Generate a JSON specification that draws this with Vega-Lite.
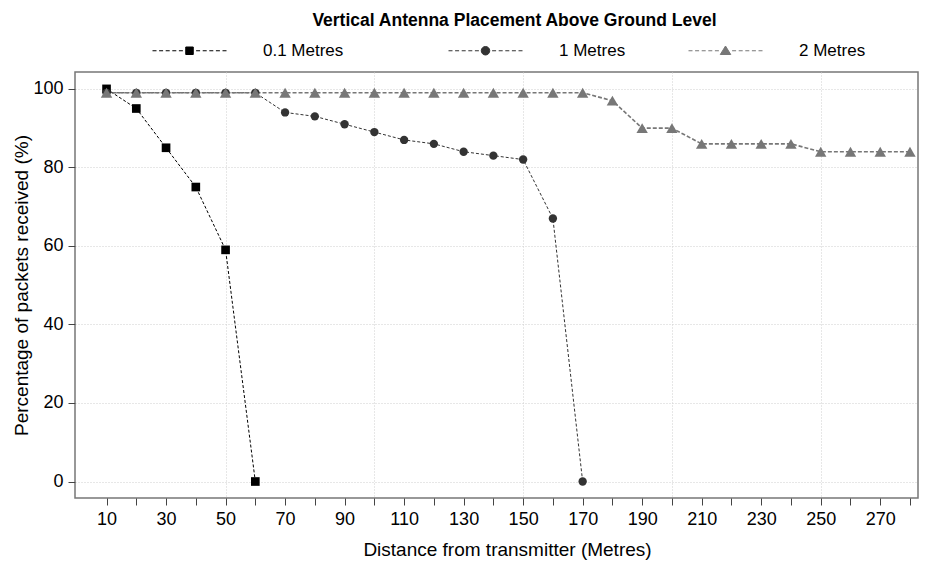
{
  "$schema": "https://vega.github.io/schema/vega-lite/v6.json",
  "width": 843,
  "height": 426,
  "autosize": {"type": "none"},
  "padding": {"left": 75, "top": 72, "right": 11, "bottom": 67},
  "background": "white",
  "config": {
    "font": "Liberation Sans",
    "view": {"stroke": "#777", "strokeWidth": 1.5},
    "axis": {
      "labelFontSize": 18,
      "titleFontSize": 19,
      "titleFontWeight": "normal",
      "labelColor": "#000",
      "titleColor": "#000",
      "tickColor": "#444",
      "tickSize": 7,
      "domain": false,
      "gridColor": "#cfcfcf",
      "gridDash": [1, 2],
      "gridWidth": 1
    }
  },
  "title": {
    "text": "Vertical Antenna Placement Above Ground Level",
    "fontSize": 17.5,
    "fontWeight": "bold",
    "color": "#000",
    "anchor": "middle",
    "frame": "group",
    "dx": 18,
    "offset": 13
  },
  "data": {
    "values": [
      {"d": 10, "p": 100, "s": "0.1 Metres"},
      {"d": 20, "p": 95, "s": "0.1 Metres"},
      {"d": 30, "p": 85, "s": "0.1 Metres"},
      {"d": 40, "p": 75, "s": "0.1 Metres"},
      {"d": 50, "p": 59, "s": "0.1 Metres"},
      {"d": 60, "p": 0, "s": "0.1 Metres"},
      {"d": 10, "p": 99, "s": "1 Metres"},
      {"d": 20, "p": 99, "s": "1 Metres"},
      {"d": 30, "p": 99, "s": "1 Metres"},
      {"d": 40, "p": 99, "s": "1 Metres"},
      {"d": 50, "p": 99, "s": "1 Metres"},
      {"d": 60, "p": 99, "s": "1 Metres"},
      {"d": 70, "p": 94, "s": "1 Metres"},
      {"d": 80, "p": 93, "s": "1 Metres"},
      {"d": 90, "p": 91, "s": "1 Metres"},
      {"d": 100, "p": 89, "s": "1 Metres"},
      {"d": 110, "p": 87, "s": "1 Metres"},
      {"d": 120, "p": 86, "s": "1 Metres"},
      {"d": 130, "p": 84, "s": "1 Metres"},
      {"d": 140, "p": 83, "s": "1 Metres"},
      {"d": 150, "p": 82, "s": "1 Metres"},
      {"d": 160, "p": 67, "s": "1 Metres"},
      {"d": 170, "p": 0, "s": "1 Metres"},
      {"d": 10, "p": 99, "s": "2 Metres"},
      {"d": 20, "p": 99, "s": "2 Metres"},
      {"d": 30, "p": 99, "s": "2 Metres"},
      {"d": 40, "p": 99, "s": "2 Metres"},
      {"d": 50, "p": 99, "s": "2 Metres"},
      {"d": 60, "p": 99, "s": "2 Metres"},
      {"d": 70, "p": 99, "s": "2 Metres"},
      {"d": 80, "p": 99, "s": "2 Metres"},
      {"d": 90, "p": 99, "s": "2 Metres"},
      {"d": 100, "p": 99, "s": "2 Metres"},
      {"d": 110, "p": 99, "s": "2 Metres"},
      {"d": 120, "p": 99, "s": "2 Metres"},
      {"d": 130, "p": 99, "s": "2 Metres"},
      {"d": 140, "p": 99, "s": "2 Metres"},
      {"d": 150, "p": 99, "s": "2 Metres"},
      {"d": 160, "p": 99, "s": "2 Metres"},
      {"d": 170, "p": 99, "s": "2 Metres"},
      {"d": 180, "p": 97, "s": "2 Metres"},
      {"d": 190, "p": 90, "s": "2 Metres"},
      {"d": 200, "p": 90, "s": "2 Metres"},
      {"d": 210, "p": 86, "s": "2 Metres"},
      {"d": 220, "p": 86, "s": "2 Metres"},
      {"d": 230, "p": 86, "s": "2 Metres"},
      {"d": 240, "p": 86, "s": "2 Metres"},
      {"d": 250, "p": 84, "s": "2 Metres"},
      {"d": 260, "p": 84, "s": "2 Metres"},
      {"d": 270, "p": 84, "s": "2 Metres"},
      {"d": 280, "p": 84, "s": "2 Metres"}
    ]
  },
  "encoding": {
    "x": {
      "field": "d",
      "type": "quantitative",
      "scale": {"domain": [-0.6, 282.7], "nice": false, "zero": false},
      "axis": {
        "title": "Distance from transmitter (Metres)",
        "values": [10, 20, 30, 40, 50, 60, 70, 80, 90, 100, 110, 120, 130, 140, 150, 160, 170, 180, 190, 200, 210, 220, 230, 240, 250, 260, 270, 280],
        "labelExpr": "datum.value % 20 == 10 ? datum.label : ''",
        "labelPadding": 5,
        "titlePadding": 12,
        "titleX": 432,
        "grid": true,
        "gridOpacity": {"condition": {"test": "datum.value % 50 == 0", "value": 1}, "value": 0}
      }
    },
    "y": {
      "field": "p",
      "type": "quantitative",
      "scale": {"domain": [-4.2, 104.3], "nice": false, "zero": false},
      "axis": {
        "title": "Percentage of packets received (%)",
        "values": [0, 20, 40, 60, 80, 100],
        "tickSize": 7,
        "labelPadding": 5,
        "titlePadding": 1,
        "grid": true
      }
    },
    "color": {
      "field": "s",
      "type": "nominal",
      "scale": {"domain": ["0.1 Metres", "1 Metres", "2 Metres"], "range": ["#000000", "#333333", "#777777"]},
      "legend": {
        "title": null,
        "orient": "none",
        "direction": "horizontal",
        "legendX": 106,
        "legendY": -30,
        "padding": 0,
        "symbolSize": 100,
        "labelOffset": 65,
        "columnPadding": 60,
        "labelFontSize": 17,
        "labelColor": "#000",
        "labelExpr": "datum.value === '0.1 Metres' ? datum.label + '\u00a0\u00a0\u00a0\u00a0\u00a0\u00a0\u00a0\u00a0\u00a0\u200b' : datum.label",
        "symbolStrokeWidth": 1,
        "encode": {
          "symbols": {
            "update": {
              "shape": {"signal": "datum.value === '0.1 Metres' ? 'M-7.4,0L-6.6,0M-6.08,0L-5.28,0M-4.76,0L-3.96,0M-3.44,0L-2.64,0M-2.12,0L-1.32,0M1.32,0L2.12,0M2.64,0L3.44,0M3.96,0L4.76,0M5.28,0L6.08,0M6.6,0L7.4,0M-0.75,-0.75L0.75,-0.75L0.75,0.75L-0.75,0.75Z' : datum.value === '1 Metres' ? 'M-7.4,0L-6.6,0M-6.08,0L-5.28,0M-4.76,0L-3.96,0M-3.44,0L-2.64,0M-2.12,0L-1.32,0M1.32,0L2.12,0M2.64,0L3.44,0M3.96,0L4.76,0M5.28,0L6.08,0M6.6,0L7.4,0M-0.85,0A0.85,0.85,0,1,1,0.85,0A0.85,0.85,0,1,1,-0.85,0Z' : 'M-7.4,0L-6.6,0M-6.08,0L-5.28,0M-4.76,0L-3.96,0M-3.44,0L-2.64,0M-2.12,0L-1.32,0M1.32,0L2.12,0M2.64,0L3.44,0M3.96,0L4.76,0M5.28,0L6.08,0M6.6,0L7.4,0M0,-0.95L1.05,0.75L-1.05,0.75Z'"},
              "fill": {"signal": "datum.value === '0.1 Metres' ? '#000000' : datum.value === '1 Metres' ? '#333333' : '#777777'"},
              "stroke": {"signal": "datum.value === '0.1 Metres' ? '#000000' : datum.value === '1 Metres' ? '#444444' : '#a0a0a0'"},
              "strokeWidth": {"value": 1},
              "opacity": {"value": 1}
            }
          }
        }
      }
    }
  },
  "layer": [
    {
      "transform": [{"filter": "datum.s === '0.1 Metres'"}],
      "mark": {"type": "line", "strokeDash": [3, 2], "color": "#000000", "strokeWidth": 1}
    },
    {
      "transform": [{"filter": "datum.s === '1 Metres'"}],
      "mark": {"type": "line", "strokeDash": [3, 2], "color": "#444444", "strokeWidth": 1}
    },
    {
      "transform": [{"filter": "datum.s === '2 Metres'"}],
      "mark": {"type": "line", "strokeDash": [4, 2], "color": "#a0a0a0", "strokeWidth": 1.6}
    },
    {
      "transform": [{"filter": "datum.s === '0.1 Metres'"}],
      "mark": {"type": "point", "filled": true, "opacity": 1, "shape": "square", "size": 75}
    },
    {
      "transform": [{"filter": "datum.s === '1 Metres'"}],
      "mark": {"type": "point", "filled": true, "opacity": 1, "shape": "circle", "size": 70}
    },
    {
      "transform": [{"filter": "datum.s === '2 Metres'"}],
      "mark": {"type": "point", "filled": true, "opacity": 1, "shape": "triangle-up", "size": 130}
    }
  ]
}
